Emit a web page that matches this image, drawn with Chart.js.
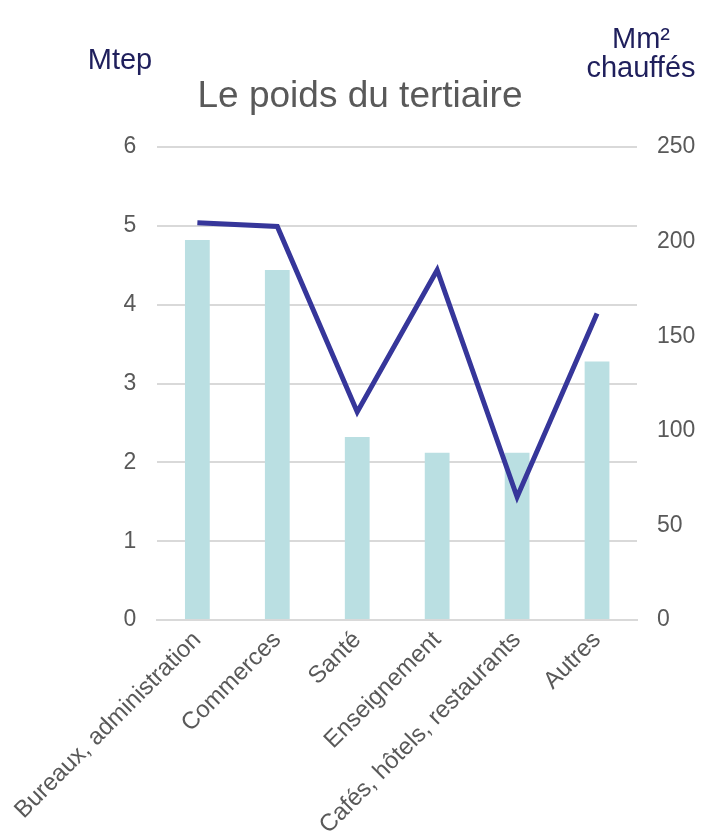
<!DOCTYPE html>
<html>
<head>
<meta charset="utf-8">
<script src="https://cdn.jsdelivr.net/npm/chart.js@4/dist/chart.umd.min.js"></script>
<style>
  html, body { margin: 0; padding: 0; background: #ffffff; }
  #wrap { width: 706px; height: 840px; }
</style>
</head>
<body>
<div id="wrap"><canvas id="chart" width="706" height="840"></canvas></div>
<script>
// Data
const categories = ['Bureaux, administration', 'Commerces', 'Santé', 'Enseignement', 'Cafés, hôtels, restaurants', 'Autres'];
const energyMtep = [4.82, 4.44, 2.32, 2.12, 2.12, 3.28];
const surfaceMm2 = [210, 208, 110, 185, 65, 162];
const leftTicks = [0, 1, 2, 3, 4, 5, 6];
const rightTicks = [0, 50, 100, 150, 200, 250];

Chart.defaults.font.family = '"Liberation Sans", Arial, sans-serif';
Chart.defaults.color = '#595959';
Chart.defaults.plugins.legend.display = false;
Chart.defaults.plugins.tooltip.enabled = false;

// Unit labels and title, drawn over the canvas
const unitLabels = {
    id: 'unitLabels',
    afterDraw(chart) {
        const ctx = chart.ctx;
        ctx.save();
        ctx.fillStyle = '#1f1f5c';
        ctx.font = '29px "Liberation Sans", Arial, sans-serif';
        ctx.textBaseline = 'middle';
        ctx.textAlign = 'center';
        ctx.fillText('Mtep', 120, 61);
        ctx.fillText('Mm²', 641, 40);
        ctx.fillText('chauffés', 641, 69);
        ctx.fillStyle = '#595959';
        ctx.font = '37px "Liberation Sans", Arial, sans-serif';
        ctx.fillText('Le poids du tertiaire', 360, 97);
        ctx.restore();
    }
};

new Chart(document.getElementById('chart'), {
    data: {
        labels: categories,
        datasets: [
            {
                type: 'line',
                data: surfaceMm2,
                yAxisID: 'y1',
                borderColor: '#36369a',
                borderWidth: 5,
                pointRadius: 0,
                tension: 0,
                order: 0,
            },
            {
                type: 'bar',
                data: energyMtep,
                yAxisID: 'y',
                backgroundColor: '#badfe2',
                barPercentage: 0.31,
                categoryPercentage: 1,
                order: 1,
            },
        ],
    },
    plugins: [unitLabels],
    options: {
        responsive: false,
        animation: false,
        layout: {
            padding: { top: 147, right: 0, left: 0, bottom: 0 },
        },
        scales: {
            x: {
                offset: true,
                grid: { display: false, drawTicks: false },
                border: { display: true, color: '#d9d9d9', width: 2 },
                ticks: {
                    font: { size: 24 },
                    color: '#595959',
                    maxRotation: 45,
                    minRotation: 45,
                    padding: 6,
                    autoSkip: false,
                },
                afterFit(scale) { scale.height = 220; },
            },
            y: {
                position: 'left',
                min: 0,
                max: 6,
                afterBuildTicks(scale) { scale.ticks = leftTicks.map(v => ({ value: v })); },
                grid: { color: '#d9d9d9', lineWidth: 2, drawTicks: false },
                border: { display: false },
                ticks: { font: { size: 23 }, color: '#595959', padding: 21 },
                afterFit(scale) { scale.width = 157; },
            },
            y1: {
                position: 'right',
                min: 0,
                max: 250,
                afterBuildTicks(scale) { scale.ticks = rightTicks.map(v => ({ value: v })); },
                grid: { display: false, drawTicks: false },
                border: { display: false },
                ticks: { font: { size: 23 }, color: '#595959', padding: 20 },
                afterFit(scale) { scale.width = 69; },
            },
        },
    },
});
</script>
</body>
</html>
